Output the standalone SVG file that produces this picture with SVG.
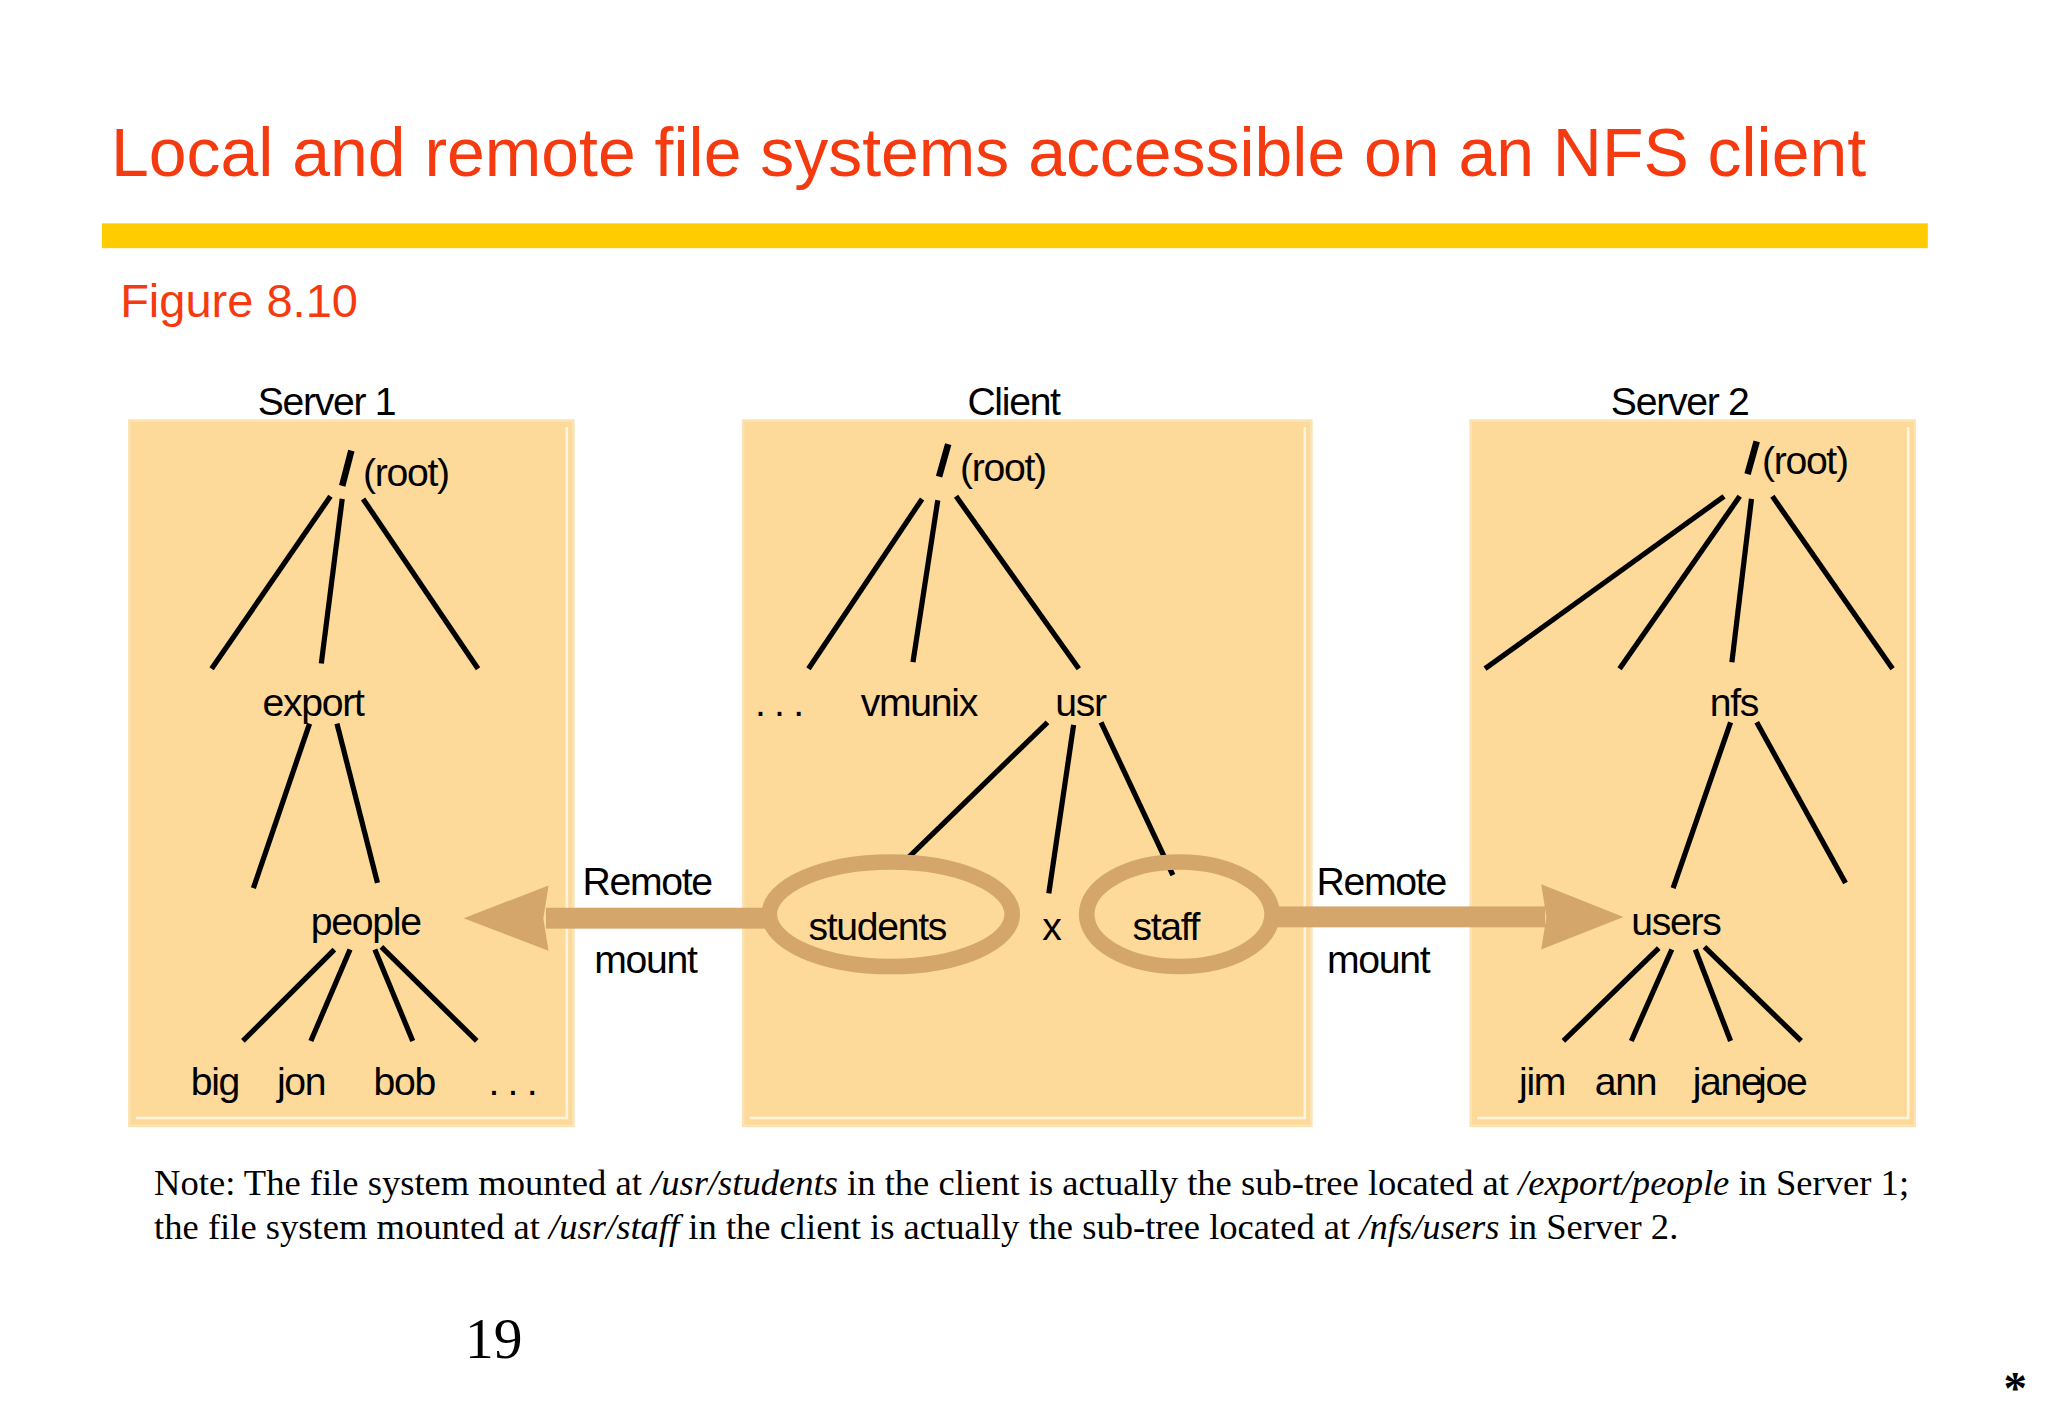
<svg xmlns="http://www.w3.org/2000/svg" width="2048" height="1418" viewBox="0 0 2048 1418">
<style>
.t{font-family:"Liberation Sans",Arial,sans-serif;font-size:30px;letter-spacing:-1px;fill:#000}
.h{font-family:"Liberation Sans",Arial,sans-serif;fill:#F53A0F}
.n{font-family:"Liberation Serif","Times New Roman",serif;font-size:28px;fill:#000}
.box{fill:#FDDA9A;stroke:#FBE3B4;stroke-width:2}
.in{fill:none;stroke:#FFF4DE;stroke-width:2}
.e{stroke:#000;stroke-width:4;stroke-linecap:butt}
.s{stroke:#000;stroke-width:5}
.m{fill:none;stroke:#D4A66C;stroke-width:12}
</style>
<rect width="2048" height="1418" fill="#fff"/>
<g transform="scale(1.3061)">
<text class="h" x="85" y="135" style="font-size:52px">Local and remote file systems accessible on an NFS client</text>
<rect x="78" y="171" width="1398" height="19" fill="#FFCC00"/>
<text class="h" x="92" y="243" style="font-size:36px">Figure 8.10</text>

<g id="server1">
<rect class="box" x="99" y="322" width="340" height="540"/>
<polyline class="in" points="434,327 434,856 104,856"/>
<text class="t" x="250" y="318" text-anchor="middle">Server 1</text>
<line class="s" x1="269" y1="345" x2="262" y2="372"/>
<text class="t" x="278" y="372">(root)</text>
<line class="e" x1="253" y1="380" x2="162" y2="512"/>
<line class="e" x1="262" y1="382" x2="246" y2="508"/>
<line class="e" x1="278" y1="382" x2="366" y2="512"/>
<text class="t" x="201" y="548">export</text>
<line class="e" x1="237" y1="554" x2="194" y2="680"/>
<line class="e" x1="258" y1="554" x2="289" y2="676"/>
<text class="t" x="238" y="716">people</text>
<line class="e" x1="256" y1="727" x2="186" y2="797"/>
<line class="e" x1="268" y1="727" x2="238" y2="797"/>
<line class="e" x1="287" y1="727" x2="316" y2="797"/>
<line class="e" x1="292" y1="725" x2="365" y2="797"/>
<text class="t" x="146" y="838">big</text>
<text class="t" x="212" y="838">jon</text>
<text class="t" x="286" y="838">bob</text>
<text class="t" x="374" y="838">. . .</text>
</g>

<g id="client">
<rect class="box" x="569" y="322" width="435" height="540"/>
<polyline class="in" points="999,327 999,856 574,856"/>
<text class="t" x="776" y="318" text-anchor="middle">Client</text>
<line class="s" x1="726" y1="340" x2="719" y2="365"/>
<text class="t" x="735" y="368">(root)</text>
<line class="e" x1="706" y1="382" x2="619" y2="512"/>
<line class="e" x1="718" y1="383" x2="699" y2="507"/>
<line class="e" x1="732" y1="380" x2="826" y2="512"/>
<text class="t" x="578" y="548">. . .</text>
<text class="t" x="659" y="548">vmunix</text>
<text class="t" x="808" y="548">usr</text>
<line class="e" x1="802" y1="553" x2="696" y2="656"/>
<line class="e" x1="822" y1="555" x2="803" y2="684"/>
<line class="e" x1="843" y1="553" x2="898" y2="670"/>
<ellipse class="m" cx="682" cy="700" rx="93" ry="40"/>
<ellipse class="m" cx="903" cy="700" rx="71" ry="40"/>
<text class="t" x="619" y="720">students</text>
<text class="t" x="798" y="720">x</text>
<text class="t" x="867" y="720">staff</text>
</g>

<g id="server2">
<rect class="box" x="1126" y="322" width="340" height="540"/>
<polyline class="in" points="1461,327 1461,856 1131,856"/>
<text class="t" x="1286" y="318" text-anchor="middle">Server 2</text>
<line class="s" x1="1345" y1="338" x2="1338" y2="363"/>
<text class="t" x="1349" y="363">(root)</text>
<line class="e" x1="1320" y1="380" x2="1137" y2="512"/>
<line class="e" x1="1332" y1="380" x2="1240" y2="512"/>
<line class="e" x1="1341" y1="382" x2="1326" y2="507"/>
<line class="e" x1="1357" y1="380" x2="1449" y2="512"/>
<text class="t" x="1309" y="548">nfs</text>
<line class="e" x1="1325" y1="553" x2="1281" y2="680"/>
<line class="e" x1="1345" y1="553" x2="1413" y2="676"/>
<text class="t" x="1249" y="716">users</text>
<line class="e" x1="1270" y1="726" x2="1197" y2="797"/>
<line class="e" x1="1280" y1="727" x2="1249" y2="797"/>
<line class="e" x1="1298" y1="727" x2="1325" y2="797"/>
<line class="e" x1="1305" y1="725" x2="1379" y2="797"/>
<text class="t" x="1163" y="838">jim</text>
<text class="t" x="1221" y="838">ann</text>
<text class="t" x="1296" y="838">jane</text>
<text class="t" x="1346" y="838">joe</text>
</g>

<g id="connectors" fill="#D4A66C">
<rect x="418" y="695" width="172" height="16"/>
<polygon points="355,703 420,678 416,703 420,728"/>
<rect x="975" y="694" width="208" height="16"/>
<polygon points="1243,702 1180,677 1184,702 1180,727"/>
</g>
<text class="t" x="446" y="685">Remote</text>
<text class="t" x="455" y="745">mount</text>
<text class="t" x="1008" y="685">Remote</text>
<text class="t" x="1016" y="745">mount</text>

<text class="n" x="118" y="915">Note: The file system mounted at <tspan font-style="italic">/usr/students</tspan> in the client is actually the sub-tree located at <tspan font-style="italic">/export/people</tspan> in Server 1;</text>
<text class="n" x="118" y="949">the file system mounted at <tspan font-style="italic">/usr/staff</tspan> in the client is actually the sub-tree located at <tspan font-style="italic">/nfs/users</tspan> in Server 2.</text>
<text class="n" x="356" y="1040" style="font-size:44px">19</text>
<text class="n" x="1534" y="1075" style="font-size:36px;font-weight:bold">*</text>
</g>
</svg>
